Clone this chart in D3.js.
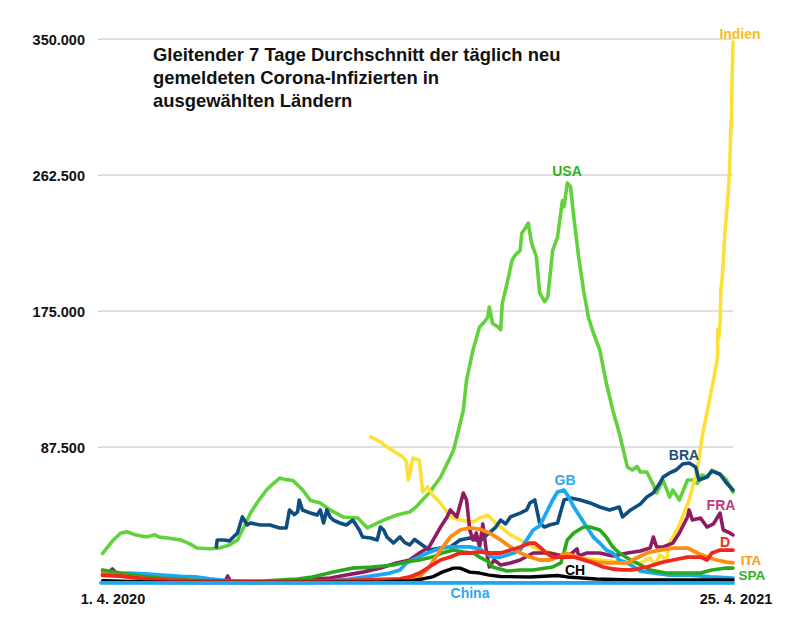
<!DOCTYPE html>
<html><head><meta charset="utf-8">
<script src="https://cdn.jsdelivr.net/npm/d3@7"></script>
<style>html,body{margin:0;padding:0;background:#fff}svg{display:block}</style>
</head><body>
<svg id="chart" width="800" height="624"></svg>
<script>
// ---- data: [day offset from 1.4.2020, new cases (thousands, 7-day avg)] ----
const startDate = new Date(2020, 3, 1);
const endDate = new Date(2021, 3, 25);
const titleLines = ["Gleitender 7 Tage Durchschnitt der täglich neu", "gemeldeten Corona-Infizierten in", "ausgewählten Ländern"];
const yTicks = [87500, 175000, 262500, 350000];
const xTickLabels = ["1. 4. 2020", "25. 4. 2021"];

const usa = [[1,19],[7,27],[12,32],[16,33],[21,31],[28,29.6],[33,31],[36,29.5],[41,29],[49,27.7],[55,25],[59,22.5],[67,22],[73,22.5],[79,24.5],[84,27.7],[88,36],[92,45],[97,53],[102,60],[106,64],[110,67.5],[114,66.5],[118,66],[124,60],[129,53],[135,51.5],[141,47],[149,42.5],[158,41.8],[164,35.4],[169,38],[174,40.5],[182,43.7],[190,45.7],[194,49],[202,58],[209,68],[215,81],[217,85.6],[220,98],[223,111],[225,130.6],[229,150],[233,164.7],[236,168],[238,171],[239,177.6],[241,167],[244,165],[246,163],[247,180],[250,193],[253,207.8],[255,211],[258,214],[259,225],[261,228],[263,231.6],[265,218.8],[268,209.7],[270,186.6],[273,181],[275,184],[278,214],[281,222.6],[284,246],[285,242],[287,257.4],[289,254.8],[291,235.5],[294,209.7],[297,188.5],[300,171],[303,161],[307,150],[311,128.7],[315,111.3],[319,96.5],[324,74.6],[327,72.7],[330,75],[332,71.4],[336,71.4],[340,63],[342,58],[346,66],[350,55.3],[352,59.8],[356,53.4],[361,66.3],[364,66.3],[367,64],[370,69.5],[373,68],[376,72.7],[381,70],[385,66.3],[389,58.5]];

const indien = [[166,94],[172,90.7],[176,87.5],[181,84.3],[186,81],[188,78],[189,66.3],[190,70],[192,80.4],[196,79],[198,58.5],[201,61.8],[204,56.6],[209,51.5],[215,42.5],[221,40.5],[229,39.2],[233,41.8],[238,43.7],[241,40.5],[246,36],[252,30.9],[258,27.7],[262,25.7],[270,21.2],[282,18],[295,16],[307,14.8],[319,13.5],[332,12.9],[338,16],[341,11.6],[344,18],[348,14.8],[350,25.7],[356,37.3],[362,53.4],[367,72.7],[370,94],[373,110],[377,130.6],[379.5,145],[379.7,163],[380.3,158],[381.2,170],[381.5,188],[382.5,198],[384,225],[386,250],[387,268],[387.8,298],[388,292],[388.2,312],[389,348]];

const bra = [[71,23.2],[71.5,27.7],[76,27.7],[79,27],[84,32.2],[87,42.5],[90,37.3],[92,38.6],[98,37.3],[104,37.3],[110,35.4],[114,35.4],[116,47],[119,44],[121,45.7],[122,53.4],[124,47],[129,45],[133,43.7],[135,47],[137,38.6],[139,47],[141,42.5],[143,40.5],[147,38.6],[151,37.3],[155,40.5],[159,34.1],[161,29.6],[166,29],[170,27.7],[172,36],[174,34.1],[176,29.6],[180,25.7],[184,29.6],[187,26],[190,24.5],[193,28],[196,25.7],[202,21.2],[209,22.5],[215,23.2],[221,27.7],[227,29],[233,27],[239,32.2],[243,36],[246,40.5],[249,38],[252,42.5],[258,45],[262,47],[264,51.5],[267,53.4],[270,38.6],[273,36],[276,37.3],[281,38.6],[285,53.4],[289,54.7],[295,53.4],[301,51.5],[307,48.9],[313,47],[319,48.9],[321,42.5],[326,47],[332,50.8],[336,55.3],[340,58],[344,64.3],[346,68.2],[350,70.8],[354,72.7],[358,76.6],[362,77.2],[366,74.6],[368,66.3],[373,68.2],[376,72],[381,70],[385,64.3],[389,59.8]];

const gb = [[1,7],[9,6],[17,6.4],[27,5.8],[38,5.1],[49,4.2],[58,3.9],[67,2.6],[79,1.3],[98,0.7],[122,0.9],[141,1.2],[153,2.5],[166,4.5],[178,6.4],[184,8.4],[188,12.9],[194,16],[201,19.3],[209,22.5],[215,23.2],[221,23.2],[227,23.2],[233,22],[238,18.7],[241,16.7],[246,16.7],[254,19.3],[258,21.2],[262,27.7],[266,34.1],[270,36.7],[274,45],[278,53.4],[281,58.5],[285,59.8],[288,55.3],[291,48.9],[295,42.5],[299,36],[303,29.6],[307,25.7],[311,21.2],[315,19.3],[319,14.8],[324,12.9],[332,7.7],[341,6.4],[350,5.1],[363,5.1],[375,3.9],[389,3.2]];

const fra = [[1,5],[5,7],[7,9],[10,5.8],[15,4.5],[24,3.2],[36,1.9],[55,1.3],[76,0.6],[78,4.5],[80,0.6],[98,0.6],[110,1.3],[122,1.9],[141,3.2],[151,5.1],[161,7],[172,9.6],[182,12.9],[190,14.8],[196,19.3],[202,23.2],[209,36],[213,42.5],[215,47],[219,42.5],[223,57.9],[225,53.4],[227,34],[229,27.7],[231,32.2],[233,23.2],[235,38],[237,22],[239,10.3],[242,14.8],[246,11.6],[252,12.9],[258,14.8],[266,19.3],[276,19.3],[287,16.7],[293,22],[294,17.4],[299,19.3],[307,19.3],[315,17.4],[324,19.3],[332,20.6],[338,22.5],[340,29.6],[342,23.2],[346,23.2],[352,25.7],[356,32.2],[361,42.5],[362,47],[364,40.5],[369,41.8],[373,36],[377,38],[381,45],[383,34.1],[387,32.2],[389,30.9]];

const deu = [[1,5],[12,4.5],[24,3.2],[42,1.9],[61,1.3],[98,0.6],[135,1.3],[159,1.9],[184,2.6],[190,3.9],[196,6.4],[202,10.3],[209,14.8],[215,16.7],[221,19.3],[227,19.3],[233,20],[239,19.3],[246,19.3],[252,21.2],[258,23.2],[264,25.7],[267,25.7],[270,23.2],[274,19.3],[278,16.7],[284,16.7],[291,16.7],[297,14.8],[303,12.9],[309,10.3],[315,9],[321,8.4],[327,8.4],[336,10.3],[344,12.9],[352,14.8],[361,16.7],[369,16.7],[373,14.8],[376,19.3],[381,21.2],[389,21.2]];

const ita = [[1,5.8],[12,4.5],[24,3.2],[36,1.9],[55,0.6],[98,0.3],[141,0.6],[166,1.3],[184,1.9],[190,2.6],[196,3.9],[202,10.3],[209,21.2],[215,29.6],[221,34.1],[227,35.4],[233,34.7],[239,32.2],[246,27.7],[252,23.2],[258,19.3],[264,16.7],[270,14.8],[276,14.8],[282,16.7],[286,19.3],[293,16.7],[299,14.8],[305,13.5],[311,12.9],[324,12.9],[327,14.8],[336,19.3],[344,21.2],[352,22.5],[361,22.5],[367,19.3],[373,16.7],[379,14.8],[385,13.5],[389,12.9]];

const spa = [[1,8.4],[12,6.4],[24,4.5],[36,3.2],[55,1.9],[79,1],[99,1.3],[110,1.9],[121,2.6],[130,3.9],[143,7],[155,9.6],[167,10.3],[180,11.6],[188,13.5],[196,14.8],[204,16.7],[210,19.3],[217,21.2],[223,20],[229,19.3],[233,16.7],[238,14],[241,10.3],[250,7.7],[258,8.4],[266,8.4],[278,10.3],[283,12.9],[285,20],[287,27.7],[291,32.2],[297,36],[301,36],[307,34.1],[311,29.6],[315,23.2],[319,19.3],[326,14.8],[332,11.6],[338,8.4],[348,6.4],[358,6.4],[369,6.4],[376,8.4],[385,9.6],[389,9.6]];

const ch = [[1,1.5],[18,1],[42,0.3],[122,0.3],[172,0.6],[190,1.3],[198,2.6],[204,3.9],[210,7],[217,9.6],[221,9.6],[227,7],[233,6.4],[239,5.1],[246,4.2],[264,3.9],[281,4.8],[287,3.9],[305,2.6],[326,1.9],[356,1.9],[389,1.9]];

const china = [[0,0.09],[30,0.02],[90,0.03],[150,0.02],[210,0.02],[270,0.03],[330,0.02],[389,0.02]];

const series = [
  {name:"USA", data:usa, color:"#62d23c", label:"USA", lc:"#30b21e", lx:567, ly:176, w:3.6},
  {name:"Indien", data:indien, color:"#fce036", label:"Indien", lc:"#fbbd26", lx:740, ly:39, w:3.6},
  {name:"BRA", data:bra, color:"#0f4d7f", label:"BRA", lc:"#1d4f7c", lx:684, ly:460, w:3.6},
  {name:"FRA", data:fra, color:"#8f1c62", label:"FRA", lc:"#c1397f", lx:721, ly:510, w:3.6},
  {name:"GB", data:gb, color:"#1ca8f0", label:"GB", lc:"#29a8ee", lx:565, ly:485, w:3.8},
  {name:"SPA", data:spa, color:"#2aa81c", label:"SPA", lc:"#2fb51f", lx:752, ly:580, w:3.6},
  {name:"ITA", data:ita, color:"#fd8c12", label:"ITA", lc:"#fc9a1a", lx:751, ly:565, w:3.8},
  {name:"D", data:deu, color:"#f0281c", label:"D", lc:"#ef2a1f", lx:725, ly:547, w:3.8},
  {name:"CH", data:ch, color:"#000000", label:"CH", lc:"#000000", lx:575, ly:575, w:3.4},
  {name:"China", data:china, color:"#1ca8f0", label:"China", lc:"#2aa8ee", lx:470, ly:598, w:3.8}
];

// ---- drawing ----
const FONT = "'Liberation Sans', Arial, Helvetica, sans-serif";
const svg = d3.select("#chart");
const x = d3.scaleTime().domain([startDate, endDate]).range([101, 733]);
const y = d3.scaleLinear().domain([0, 350000]).range([583, 39]);
const dayToDate = d => new Date(startDate.getTime() + d * 86400000);
const fmt = v => d3.format(",")(v).replace(/,/g, ".");

// grid lines
svg.append("g").selectAll("line").data(yTicks).join("line")
  .attr("x1", 101).attr("x2", 733)
  .attr("y1", d => y(d)).attr("y2", d => y(d))
  .attr("stroke", "#d6d6d6").attr("stroke-width", 1.5);

// y axis
const yAxis = svg.append("g").attr("transform", "translate(101,0)")
  .call(d3.axisLeft(y).tickValues(yTicks).tickFormat(fmt).tickSize(3).tickPadding(13));
yAxis.select(".domain").remove();
yAxis.selectAll("line").attr("stroke", "#bdbdbd");
yAxis.selectAll("text").attr("font-family", FONT).attr("font-size", 14.5)
  .attr("font-weight", "bold").attr("fill", "#111").attr("dy", "0.35em");

// x axis (weekly ticks)
const xAxis = svg.append("g").attr("transform", "translate(0,583)")
  .call(d3.axisBottom(x).ticks(d3.timeDay.every(7)).tickSize(2).tickFormat(""));
xAxis.select(".domain").attr("stroke", "#c8c8c8").attr("stroke-width", 1);
xAxis.selectAll(".tick line").attr("stroke", "#b8b8b8");

// x labels
svg.append("g").selectAll("text").data(xTickLabels).join("text")
  .attr("x", (d, i) => i === 0 ? 113 : 736).attr("y", 604)
  .attr("text-anchor", "middle").attr("font-family", FONT).attr("font-size", 14.5)
  .attr("font-weight", "bold").attr("fill", "#111").text(d => d);

// lines
const line = d3.line().x(d => x(dayToDate(d[0]))).y(d => y(d[1] * 1000)).curve(d3.curveLinear);
svg.append("g").selectAll("path").data(series).join("path")
  .attr("d", s => line(s.data)).attr("fill", "none")
  .attr("stroke", s => s.color).attr("stroke-width", s => s.w)
  .attr("stroke-linejoin", "round").attr("stroke-linecap", "round");

// labels
svg.append("g").selectAll("text").data(series).join("text")
  .attr("x", s => s.lx).attr("y", s => s.ly).attr("text-anchor", "middle")
  .attr("font-family", FONT).attr("font-size", s => (s.name === "ITA" || s.name === "SPA") ? 13.5 : 14)
  .attr("font-weight", "bold")
  .attr("fill", s => s.lc).text(s => s.label);

// title
svg.append("g").selectAll("text").data(titleLines).join("text")
  .attr("x", 153).attr("y", (d, i) => 61 + i * 23)
  .attr("font-family", FONT).attr("font-size", 18.4).attr("font-weight", "bold")
  .attr("fill", "#111").text(d => d);
</script>
</body></html>
